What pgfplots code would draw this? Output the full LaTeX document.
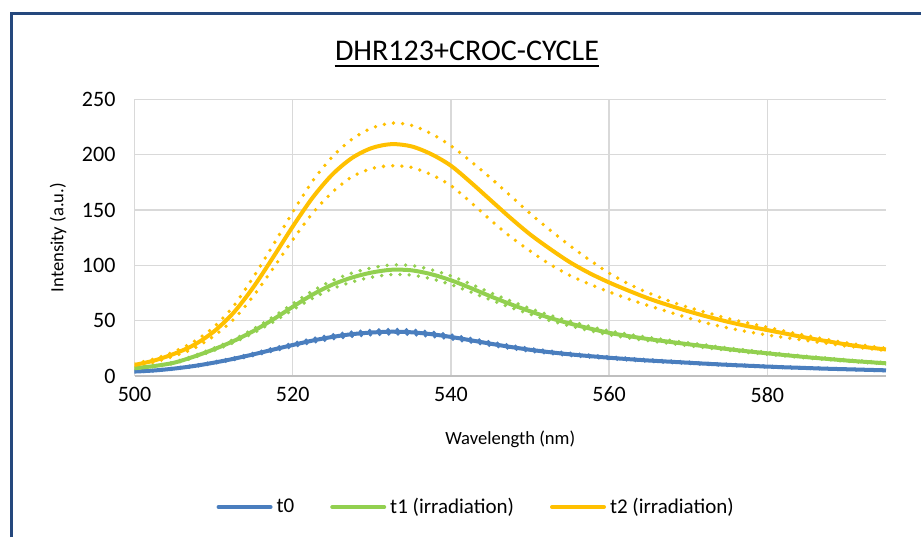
\documentclass[border=0pt]{standalone}
\usepackage{pgfplots}
\pgfplotsset{compat=1.18}
\usepackage{pgfplotstable}
\usepackage{fontspec}
\setmainfont{Carlito}
\definecolor{cB}{HTML}{4A7EBE}
\definecolor{cG}{HTML}{92D050}
\definecolor{cO}{HTML}{FFC000}
\definecolor{bordercol}{RGB}{37,72,125}
\pgfplotstableread{
x     b    bu    bl    g     gu    gl    o     ou    ol
500   4    4.2   3.8   7     7.3   6.7   10    11    9
502.5 5    5.25  4.75  9     9.4   8.6   14    15.5  12.5
505   6.7  7.0   6.4   12    12.5  11.5  20    22    18
507.5 9    9.45  8.55  17.5  18.3  16.7  28    31    25
510   12   12.6  11.4  24    25.1  22.9  40    44    36
512.5 15.5 16.3  14.7  31.5  32.9  30.1  57    63    51
515   19.5 20.5  18.5  40.5  42.3  38.7  80    89    72
517.5 23.8 25.0  22.6  51    53.3  48.7  107   118   97
520   28   29.4  26.6  62.5  65.3  59.7  135   148   123
522.5 32   33.6  30.4  73.5  76.8  70.2  161   176   147
525   35.3 37.1  33.5  82.5  86.2  78.8  182   198   166
527.5 37.8 39.7  35.9  89    93    85    197   214   180
530   39.3 41.3  37.3  93.5  97.7  89.3  206   224   187.5
532.5 40   42    38    96    100.3 91.7  209.5 228.5 190
535   39.5 41.5  37.5  95.5  99.8  91.2  207.5 226.5 188.5
537.5 37.8 39.7  35.9  92    96.1  87.9  200.5 219   182
540   35.3 37.1  33.5  86.5  90.4  82.6  190   208   172
542.5 32.3 33.9  30.7  79.5  83.1  75.9  175   194   157
545   29.2 30.7  27.7  72    75.2  68.8  159   179   141
547.5 26.3 27.6  25.0  65    67.9  62.1  143   163   126
550   23.7 24.9  22.5  58.5  61.1  55.9  128   147   113
552.5 21.5 22.6  20.4  52.5  54.9  50.1  115   132   101
555   19.6 20.6  18.6  47.5  49.6  45.4  103   118   91
557.5 18   18.9  17.1  43    44.9  41.1  93    105   83
560   16.5 17.3  15.7  39    40.8  37.2  84.5  93    76
562.5 15.2 16.0  14.4  36    37.6  34.4  77    83    69.5
565   14   14.7  13.3  33.3  34.8  31.8  70    75    63.5
567.5 13   13.65 12.35 31    32.4  29.6  64    68    58
570   12   12.6  11.4  28.7  30    27.4  58.5  62    52.5
572.5 11   11.55 10.45 26.5  27.7  25.3  53.5  57    47.5
575   10.1 10.6  9.6   24.3  25.4  23.2  49    52    43.5
577.5 9.3  9.75  8.85  22.3  23.3  21.3  45    48    40
580   8.5  8.9   8.1   20.5  21.4  19.6  41.5  44    37
582.5 7.8  8.2   7.4   18.7  19.5  17.9  38    40    34.5
585   7.2  7.55  6.85  17    17.8  16.2  34.5  36.5  32
587.5 6.6  6.9   6.3   15.5  16.2  14.8  31.5  33    29.5
590   6.1  6.4   5.8   14    14.6  13.4  28.5  30    27
592.5 5.6  5.9   5.3   12.7  13.3  12.1  26    27.5  25
595   5.1  5.35  4.85  11.5  12    11    24    25    23
}\data
\tikzset{dotb/.style={line width=1.9pt, line cap=round, dash pattern=on 0pt off 4.6pt}}
\begin{document}
\begin{tikzpicture}
\begin{axis}[
  at={(67.25pt,80.5pt)}, anchor=south west,
  scale only axis, width=375.75pt, height=138.35pt,
  xmin=500, xmax=595, ymin=0, ymax=250,
  xtick={500,520,540,560,580}, ytick={0,50,100,150,200,250},
  grid=major, grid style={draw=black!15, line width=0.75pt},
  axis x line*=bottom, axis y line*=left,
  x axis line style={-, draw=black!25, line width=0.9pt},
  y axis line style={draw=none},
  major tick length=0pt,
  /pgf/number format/assume math mode=true,
  ticklabel style={font=\fontsize{11}{13}\selectfont, text=black},
  yticklabel style={xshift=-6pt},
  xticklabel style={yshift=-2pt},
  xlabel={Wavelength (nm)},
  xlabel style={font=\fontsize{9.3}{11}\selectfont, at={(axis description cs:0.5,-0.2277)}, anchor=center},
  ylabel={Intensity (a.u.)},
  ylabel style={font=\fontsize{9.3}{11}\selectfont, at={(axis description cs:-0.1018,0.5)}, anchor=center},
  legend columns=3,
  legend style={at={(axis description cs:0.4560,-0.4734)}, anchor=center, draw=none, fill=none,
    font=\fontsize{10.5}{12}\selectfont,
    /tikz/every even column/.append style={column sep=16pt}},
  legend image code/.code={\draw[#1, line width=2pt, line cap=round] (0pt,0pt) -- (26pt,0pt);},
]
\addplot[cB, dotb, smooth, forget plot] table[x=x,y=bu]{\data};
\addplot[cB, dotb, smooth, forget plot] table[x=x,y=bl]{\data};
\addplot[cG, dotb, smooth, forget plot] table[x=x,y=gu]{\data};
\addplot[cG, dotb, smooth, forget plot] table[x=x,y=gl]{\data};
\addplot[cO, dotb, smooth, forget plot] table[x=x,y=ou]{\data};
\addplot[cO, dotb, smooth, forget plot] table[x=x,y=ol]{\data};
\addplot[cB, line width=2pt, smooth] table[x=x,y=b]{\data};
\addlegendentry{t0}
\addplot[cG, line width=2pt, smooth] table[x=x,y=g]{\data};
\addlegendentry{t1 (irradiation)}
\addplot[cO, line width=2pt, smooth] table[x=x,y=o]{\data};
\addlegendentry{t2 (irradiation)}
\end{axis}
\node[inner sep=0pt, anchor=base, font=\fontsize{15}{18}\selectfont] (T) at (233.5pt,238pt) {DHR123+CROC-CYCLE};
\draw[line width=0.9pt] ([yshift=-2.6pt]T.base west) -- ([yshift=-2.6pt]T.base east);
\draw[bordercol, line width=1.5pt] (5.75pt,0pt) -- (5.75pt,261.75pt) -- (461pt,261.75pt);
\pgfresetboundingbox
\useasboundingbox (0,0) rectangle (460.5pt,268.5pt);
\end{tikzpicture}
\end{document}
